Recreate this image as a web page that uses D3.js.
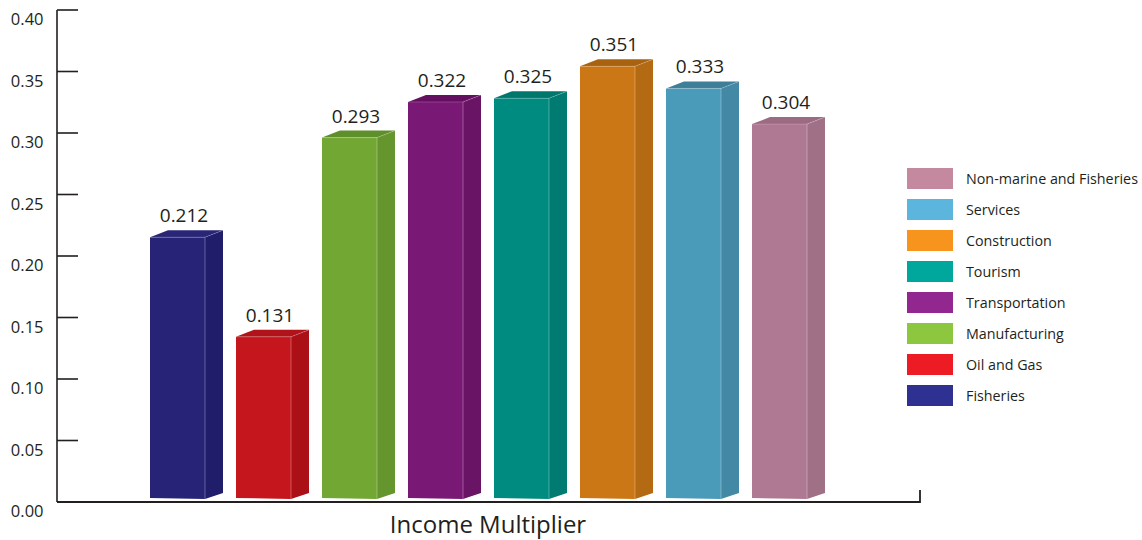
<!DOCTYPE html>
<html>
<head>
<meta charset="utf-8">
<script src="https://cdn.jsdelivr.net/npm/d3@7"></script>
<style>
  html, body { margin: 0; padding: 0; background: #ffffff; }
  svg { display: block; font-family: "Open Sans", "Noto Sans", sans-serif; }
</style>
</head>
<body>
<svg id="chart" width="1142" height="540"></svg>
<script>
// Sectors and their income multipliers
const categories = ["Fisheries", "Oil and Gas", "Manufacturing", "Transportation",
                    "Tourism", "Construction", "Services", "Non-marine and Fisheries"];
const values = [0.212, 0.131, 0.293, 0.322, 0.325, 0.351, 0.333, 0.304];
const tickValues = [0.00, 0.05, 0.10, 0.15, 0.20, 0.25, 0.30, 0.35, 0.40];
const axisTitle = "Income Multiplier";

// Face shades for each extruded bar and the flat legend swatch colours
const frontColors  = ["#272478", "#c4161c", "#72a733", "#7a1875", "#008b80", "#cc7716", "#4a9aba", "#b07993"];
const sideColors   = ["#201d6a", "#aa1016", "#65962d", "#6a1466", "#007b71", "#b46a13", "#4389a6", "#a07186"];
const topColors    = ["#2a2677", "#b0141a", "#5f8f2a", "#650f61", "#00776d", "#a9620f", "#3f7e98", "#9c6a82"];
const legendColors = ["#2e3192", "#ed1c24", "#8dc63f", "#92278f", "#00a79d", "#f7941d", "#5bb5dc", "#c4889f"];

const svg = d3.select("#chart");
const ink = "#231f20";

const y = d3.scaleLinear().domain([0, 0.40]).range([502, 10]);
const x = d3.scaleBand().domain(categories).range([150, 807]).paddingInner(31 / 86).paddingOuter(0);

const axisX = 57;
const depthX = 18, depthY = -7;   // extrusion offset of the 3D boxes
const baseLift = 4;               // bars sit just above the baseline

// ---- y axis ----
const yAxis = svg.append("g");
yAxis.append("line")
  .attr("x1", axisX).attr("x2", axisX)
  .attr("y1", y(0.40)).attr("y2", y(0))
  .attr("stroke", ink).attr("stroke-width", 1.6);
yAxis.selectAll("line.tick").data(tickValues).join("line")
  .attr("class", "tick")
  .attr("x1", axisX).attr("x2", axisX + 21)
  .attr("y1", d => y(d)).attr("y2", d => y(d))
  .attr("stroke", ink).attr("stroke-width", 1.6);
yAxis.selectAll("text").data(tickValues).join("text")
  .attr("x", 43.5).attr("y", d => y(d) + 15)
  .attr("text-anchor", "end")
  .attr("font-size", 16.5).attr("fill", ink)
  .text(d => d3.format(".2f")(d));

// ---- baseline with closing end tick ----
svg.append("path")
  .attr("d", `M${axisX},${y(0)} H920 V490`)
  .attr("fill", "none").attr("stroke", ink).attr("stroke-width", 1.8);

// ---- extruded bars ----
const bars = svg.append("g").selectAll("g").data(values).join("g");

bars.each(function (v, i) {
  const g = d3.select(this);
  const x0 = x(categories[i]);
  const w = x.bandwidth();
  const yb = y(0) - baseLift;
  const yt = y(v) - baseLift;
  // side face
  g.append("path")
    .attr("d", `M${x0 + w},${yt} L${x0 + w + depthX},${yt + depthY} L${x0 + w + depthX},${yb + depthY + 2} L${x0 + w},${yb + 1} Z`)
    .attr("fill", sideColors[i]);
  // top face
  g.append("path")
    .attr("d", `M${x0},${yt} L${x0 + depthX},${yt + depthY} L${x0 + w + depthX},${yt + depthY} L${x0 + w},${yt} Z`)
    .attr("fill", topColors[i]);
  // front face
  g.append("path")
    .attr("d", `M${x0},${yt} L${x0 + w},${yt} L${x0 + w},${yb + 1} L${x0},${yb} Z`)
    .attr("fill", frontColors[i]);
  // light edge between front and side
  g.append("line")
    .attr("x1", x0 + w).attr("x2", x0 + w)
    .attr("y1", yt).attr("y2", yb + 1)
    .attr("stroke", "#ffffff").attr("stroke-opacity", 0.3).attr("stroke-width", 1);
  g.append("path")
    .attr("d", `M${x0},${yt} L${x0 + w},${yt} L${x0 + w + depthX},${yt + depthY}`)
    .attr("fill", "none")
    .attr("stroke", "#ffffff").attr("stroke-opacity", 0.2).attr("stroke-width", 1);
  // value label
  g.append("text")
    .attr("x", x0 + 34).attr("y", yt - 15)
    .attr("text-anchor", "middle")
    .attr("font-size", 19).attr("fill", ink)
    .text(d3.format(".3f")(v));
});

// ---- x axis title ----
svg.append("text")
  .attr("x", 488).attr("y", 533)
  .attr("text-anchor", "middle")
  .attr("font-size", 24).attr("fill", ink)
  .text(axisTitle);

// ---- legend (reverse order, last sector on top) ----
const legendOrder = d3.range(categories.length).reverse();
const legend = svg.append("g").selectAll("g").data(legendOrder).join("g")
  .attr("transform", (d, k) => `translate(907,${168 + k * 31})`);
legend.append("rect")
  .attr("width", 46).attr("height", 21)
  .attr("fill", d => legendColors[d]);
legend.append("text")
  .attr("x", 59).attr("y", 16)
  .attr("font-size", 14.3).attr("fill", ink)
  .text(d => categories[d]);
</script>
</body>
</html>
